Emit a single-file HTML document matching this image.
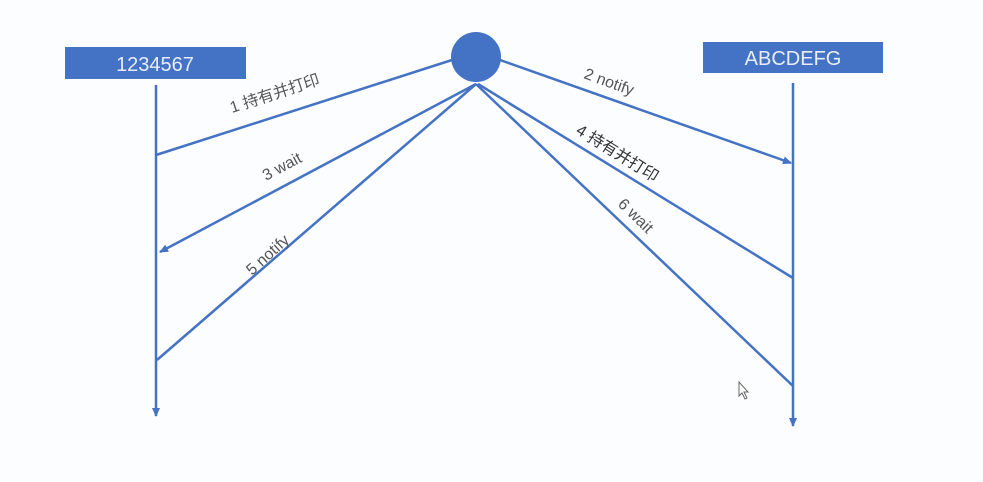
<!DOCTYPE html>
<html><head><meta charset="utf-8"><style>
body{margin:0;background:#fcfdfe;}
svg{display:block}
text{font-family:"Liberation Sans","Noto Sans CJK SC",sans-serif;fill:#555;font-size:16px}
</style></head><body>
<svg width="983" height="482" viewBox="0 0 983 482">
<defs><marker id="a" markerWidth="10" markerHeight="10" refX="8" refY="5" orient="auto" markerUnits="userSpaceOnUse"><path d="M0,1 L9,5 L0,9 Z" fill="#4472c4"/></marker></defs>
<rect x="65" y="47" width="181" height="32" fill="#4472c4"/>
<text x="155" y="71" text-anchor="middle" style="fill:#e8eef8;font-size:20px">1234567</text>
<rect x="703" y="42" width="180" height="31" fill="#4472c4"/>
<text x="793" y="65" text-anchor="middle" style="fill:#e8eef8;font-size:20px">ABCDEFG</text>
<circle cx="476" cy="57" r="25" fill="#4472c4"/>
<g stroke="#4472c4" stroke-width="2.5" fill="none">
<line x1="156" y1="85" x2="156" y2="416" marker-end="url(#a)"/>
<line x1="793" y1="83" x2="793" y2="426" marker-end="url(#a)"/>
<line x1="452" y1="60" x2="156" y2="155"/>
<line x1="476" y1="84" x2="160" y2="252" marker-end="url(#a)"/>
<line x1="476" y1="84" x2="157" y2="360"/>
<line x1="500" y1="60" x2="791" y2="163" marker-end="url(#a)"/>
<line x1="478" y1="84" x2="793" y2="278"/>
<line x1="476" y1="84" x2="793" y2="386"/>
</g>
<text transform="translate(232,113) rotate(-18)">1 持有并打印</text>
<text transform="translate(266,181) rotate(-28)">3 wait</text>
<text transform="translate(252,276) rotate(-42)">5 notify</text>
<text transform="translate(583,78) rotate(20)">2 notify</text>
<text transform="translate(575,133) rotate(32)" style="fill:#333">4 持有并打印</text>
<text transform="translate(617,205) rotate(44)">6 wait</text>
<path d="M739,382 L739,396 L742,393 L745,399 L747,398 L744,392 L748,392 Z" fill="#fff" stroke="#666" stroke-width="1"/>
</svg>
</body></html>
